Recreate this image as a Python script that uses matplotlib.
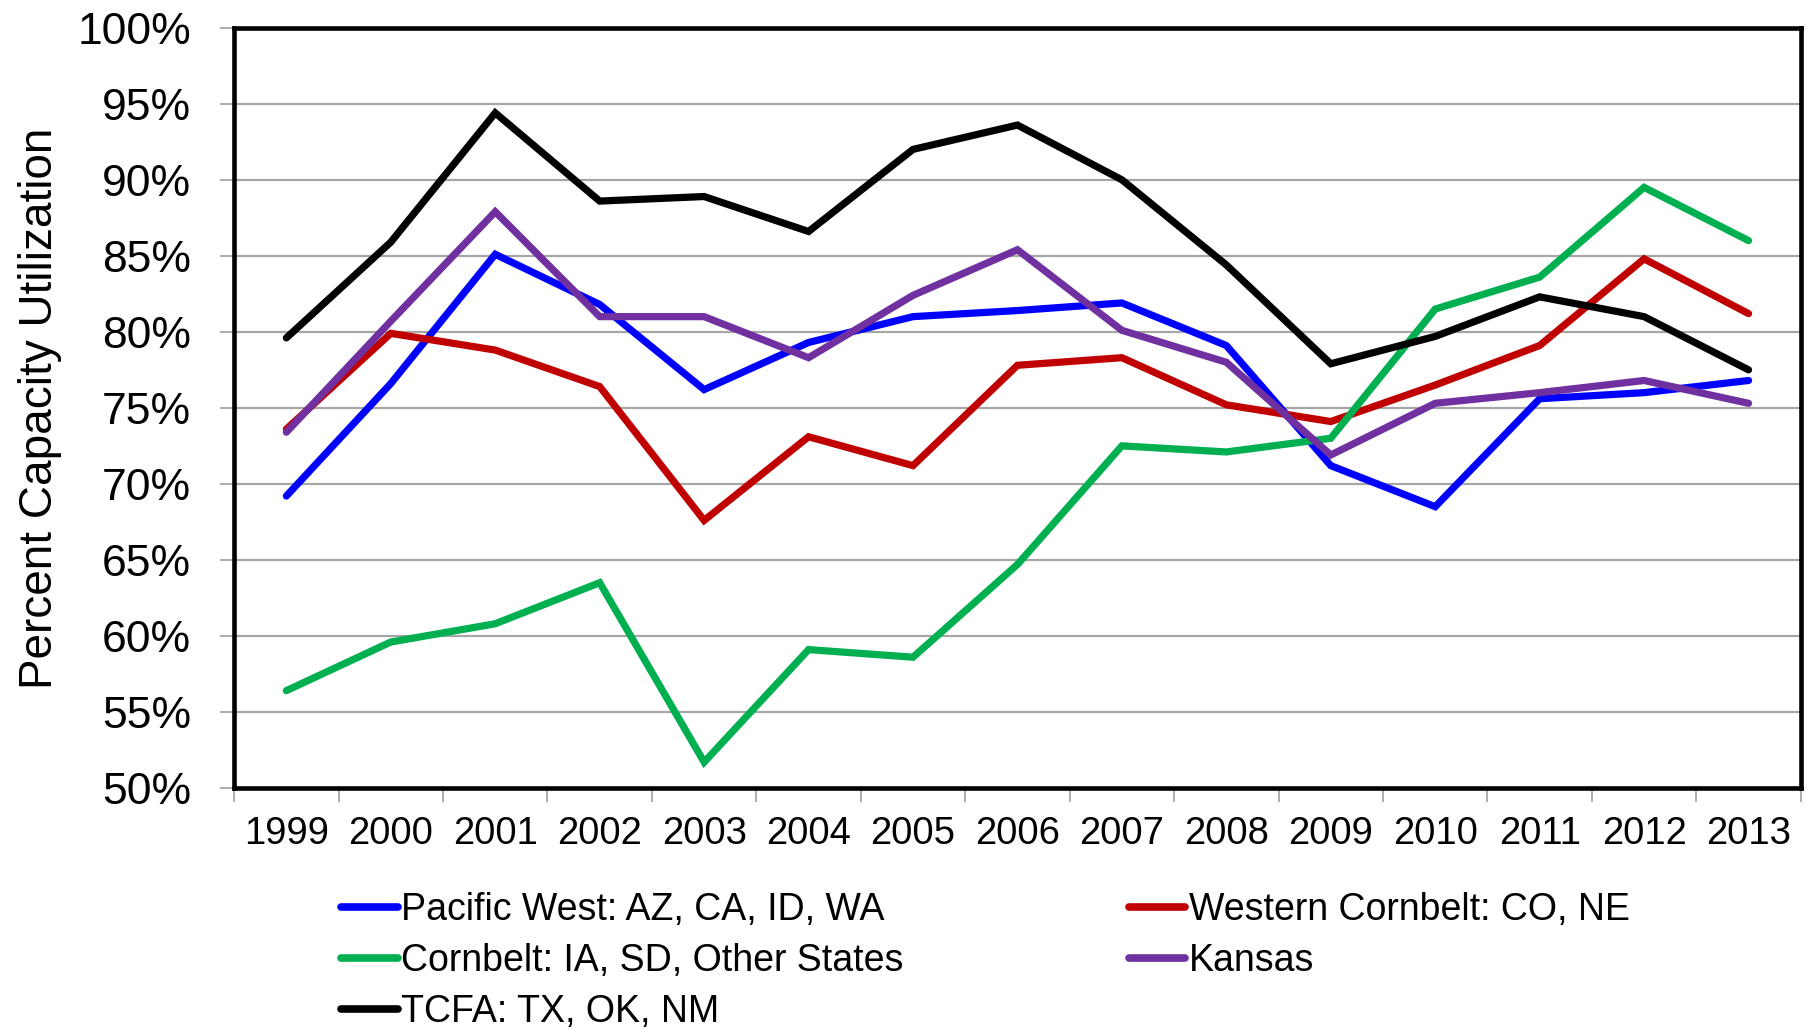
import matplotlib
matplotlib.use("Agg")
import matplotlib.pyplot as plt
import numpy as np
from matplotlib.ticker import FuncFormatter, FixedLocator

plt.rcParams['font.family'] = ['Liberation Sans', 'DejaVu Sans']

years = ['1999', '2000', '2001', '2002', '2003', '2004', '2005', '2006',
         '2007', '2008', '2009', '2010', '2011', '2012', '2013']

# percent capacity utilization by region
pacific_west = [69.2, 76.6, 85.1, 81.8, 76.2, 79.3, 81.0, 81.4,
                81.9, 79.1, 71.2, 68.5, 75.6, 76.0, 76.8]
western_cornbelt = [73.6, 79.9, 78.8, 76.4, 67.6, 73.1, 71.2, 77.8,
                    78.3, 75.2, 74.1, 76.5, 79.1, 84.8, 81.2]
cornbelt = [56.4, 59.6, 60.8, 63.5, 51.7, 59.1, 58.6, 64.7,
            72.5, 72.1, 73.0, 81.5, 83.6, 89.5, 86.0]
kansas = [73.4, 80.7, 87.9, 81.0, 81.0, 78.3, 82.4, 85.4,
          80.1, 78.0, 71.9, 75.3, 76.0, 76.8, 75.3]
tcfa = [79.6, 85.9, 94.4, 88.6, 88.9, 86.6, 92.0, 93.6,
        90.0, 84.4, 77.9, 79.7, 82.3, 81.0, 77.5]

series = [
    ("Pacific West: AZ, CA, ID, WA", pacific_west, "#0000FF"),
    ("Western Cornbelt: CO, NE", western_cornbelt, "#C00000"),
    ("Cornbelt: IA, SD, Other States", cornbelt, "#00B050"),
    ("Kansas", kansas, "#7030A0"),
    ("TCFA: TX, OK, NM", tcfa, "#000000"),
]

fig = plt.figure(figsize=(18.08, 10.28), dpi=100)
ax = fig.add_axes([0.1295, 0.2335, 0.8665, 0.7395])

x = np.arange(len(years))
lines = {}
for name, vals, col in series:
    ln, = ax.plot(x, np.array(vals) / 100.0, color=col, lw=5.2,
                  solid_joinstyle='miter', solid_capstyle='round', label=name)
    lines[name] = ln

ax.set_xlim(-0.5, len(years) - 0.5)
ax.set_ylim(0.5, 1.0)
ax.set_yticks(np.arange(0.5, 1.001, 0.05))
ax.yaxis.set_major_formatter(FuncFormatter(lambda v, p: f"{v*100:.0f}%"))
ax.yaxis.grid(True, color='#A6A6A6', lw=1.6)
ax.set_axisbelow(True)

ax.set_xticks(x)
ax.set_xticklabels(years)
ax.xaxis.set_minor_locator(FixedLocator(np.arange(-0.5, len(years), 1.0)))
ax.tick_params(axis='x', which='major', length=0, pad=20, labelsize=27.5)
ax.tick_params(axis='x', which='minor', length=10, width=1.3, color='#A6A6A6',
               direction='out')
ax.tick_params(axis='y', length=10, width=1.3, color='#A6A6A6', pad=21,
               labelsize=32)

for s in ax.spines.values():
    s.set_color('black')
    s.set_linewidth(3.3)

ax.set_ylabel("Percent Capacity Utilization", fontsize=33)
ax.yaxis.set_label_coords(-0.110, 0.5)

order = ["Pacific West: AZ, CA, ID, WA", "Cornbelt: IA, SD, Other States",
         "TCFA: TX, OK, NM", "Western Cornbelt: CO, NE", "Kansas"]
leg = fig.legend([lines[n] for n in order], order, loc='upper left',
                 bbox_to_anchor=(0.1805, 0.147), ncol=2, frameon=False,
                 fontsize=27, handlelength=1.5, handletextpad=0.1,
                 labelspacing=0.4, columnspacing=6.0, borderaxespad=0)
for h in leg.get_lines():
    h.set_linewidth(5.5)
    h.set_solid_capstyle('round')

fig.savefig("out.png", dpi=100)
